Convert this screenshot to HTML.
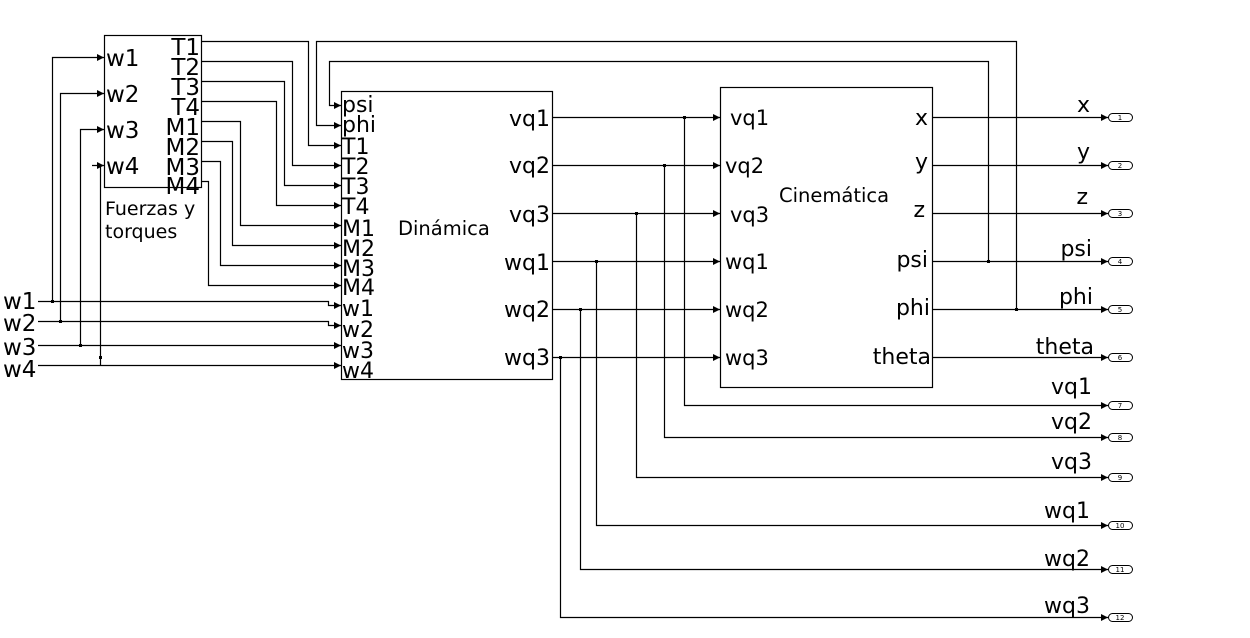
<!DOCTYPE html>
<html><head><meta charset="utf-8"><style>
html,body{margin:0;padding:0;background:#fff;}
svg{display:block;}
text{font-family:"DejaVu Sans","Liberation Sans",sans-serif;fill:#000;}
</style></head><body>
<svg width="1250" height="638" viewBox="0 0 1250 638" xmlns="http://www.w3.org/2000/svg">
<defs>
<marker id="a" markerWidth="8" markerHeight="8" refX="7" refY="4" orient="auto" markerUnits="userSpaceOnUse">
<path d="M0,0.5 L7,4 L0,7.5 Z" fill="#000"/>
</marker>
</defs>
<g fill="none" stroke="#000" stroke-width="1.2">
<rect x="104.5" y="35.5" width="97" height="152"/>
<rect x="341.5" y="91.5" width="211" height="288"/>
<rect x="720.5" y="87.5" width="212" height="300"/>
</g>
<g fill="none" stroke="#000" stroke-width="1.2" marker-end="url(#a)">
<path d="M52.5,301.5 V57.5 H104"/>
<path d="M60.5,321.5 V93.5 H104"/>
<path d="M80.5,345.5 V129.5 H104"/>
<path d="M100.5,365.5 V165.5 M92,165.5 H104"/>
<path d="M38,301.5 H328.5 V305.5 H341"/>
<path d="M38,321.5 H328.5 V325.5 H341"/>
<path d="M38,345.5 H341"/>
<path d="M38,365.5 H341"/>
<path d="M201,41.5 H308.5 V145.5 H341"/>
<path d="M201,61.5 H292.5 V165.5 H341"/>
<path d="M201,81.5 H284.5 V185.5 H341"/>
<path d="M201,101.5 H276.5 V205.5 H341"/>
<path d="M201,121.5 H240.5 V225.5 H341"/>
<path d="M201,141.5 H232.5 V245.5 H341"/>
<path d="M201,161.5 H220.5 V265.5 H341"/>
<path d="M201,181.5 H208.5 V285.5 H341"/>
<path d="M988.5,261.5 V61.5 H329.5 V105.5 H341"/>
<path d="M1016.5,309.5 V41.5 H316.5 V125.5 H341"/>
<path d="M552,117.5 H720"/>
<path d="M552,165.5 H720"/>
<path d="M552,213.5 H720"/>
<path d="M552,261.5 H720"/>
<path d="M552,309.5 H720"/>
<path d="M552,357.5 H720"/>
<path d="M684.5,117.5 V405.5 H1108"/>
<path d="M664.5,165.5 V437.5 H1108"/>
<path d="M636.5,213.5 V477.5 H1108"/>
<path d="M596.5,261.5 V525.5 H1108"/>
<path d="M580.5,309.5 V569.5 H1108"/>
<path d="M560.5,357.5 V617.5 H1108"/>
<path d="M932,117.5 H1108"/>
<path d="M932,165.5 H1108"/>
<path d="M932,213.5 H1108"/>
<path d="M932,261.5 H1108"/>
<path d="M932,309.5 H1108"/>
<path d="M932,357.5 H1108"/>
</g>
<g fill="#000">
<rect x="51" y="300" width="3" height="3"/>
<rect x="59" y="320" width="3" height="3"/>
<rect x="79" y="344" width="3" height="3"/>
<rect x="99" y="356" width="3" height="3"/>
<rect x="683" y="116" width="3" height="3"/>
<rect x="663" y="164" width="3" height="3"/>
<rect x="635" y="212" width="3" height="3"/>
<rect x="595" y="260" width="3" height="3"/>
<rect x="579" y="308" width="3" height="3"/>
<rect x="559" y="356" width="3" height="3"/>
<rect x="987" y="260" width="3" height="3"/>
<rect x="1015" y="308" width="3" height="3"/>
</g>
<g fill="#fff" stroke="#000" stroke-width="1">
<rect x="1108.5" y="113.5" width="24" height="8" rx="4"/>
<rect x="1108.5" y="161.5" width="24" height="8" rx="4"/>
<rect x="1108.5" y="209.5" width="24" height="8" rx="4"/>
<rect x="1108.5" y="257.5" width="24" height="8" rx="4"/>
<rect x="1108.5" y="305.5" width="24" height="8" rx="4"/>
<rect x="1108.5" y="353.5" width="24" height="8" rx="4"/>
<rect x="1108.5" y="401.5" width="24" height="8" rx="4"/>
<rect x="1108.5" y="433.5" width="24" height="8" rx="4"/>
<rect x="1108.5" y="473.5" width="24" height="8" rx="4"/>
<rect x="1108.5" y="521.5" width="24" height="8" rx="4"/>
<rect x="1108.5" y="565.5" width="24" height="8" rx="4"/>
<rect x="1108.5" y="613.5" width="24" height="8" rx="4"/>
</g>
<g font-size="7" text-anchor="middle">
<text x="1120" y="120">1</text><text x="1120" y="168">2</text><text x="1120" y="216">3</text>
<text x="1120" y="264">4</text><text x="1120" y="312">5</text><text x="1120" y="360">6</text>
<text x="1120" y="408">7</text><text x="1120" y="440">8</text><text x="1120" y="480">9</text>
<text x="1120" y="528">10</text><text x="1120" y="572">11</text><text x="1120" y="620">12</text>
</g>
<g font-size="22" text-anchor="end">
<text x="1090" y="112">x</text><text x="1090" y="159">y</text><text x="1088" y="204">z</text>
<text x="1092" y="256">psi</text><text x="1093" y="304">phi</text><text x="1094" y="354">theta</text>
<text x="1092" y="394">vq1</text><text x="1092" y="429">vq2</text><text x="1092" y="469">vq3</text>
<text x="1090" y="518">wq1</text><text x="1090" y="566">wq2</text><text x="1090" y="613">wq3</text>
</g>
<g font-size="23">
<text x="3" y="309">w1</text><text x="3" y="331">w2</text><text x="3" y="355">w3</text><text x="3" y="377">w4</text>
</g>
<g font-size="23">
<text x="106" y="66">w1</text><text x="106" y="102">w2</text><text x="106" y="138">w3</text><text x="106" y="174">w4</text>
</g>
<g font-size="23" text-anchor="end">
<text x="200" y="55">T1</text><text x="200" y="75">T2</text><text x="200" y="95">T3</text><text x="200" y="115">T4</text>
<text x="200" y="135">M1</text><text x="200" y="155">M2</text><text x="200" y="175">M3</text><text x="200" y="194">M4</text>
</g>
<g font-size="19">
<text x="105" y="215">Fuerzas y</text><text x="105" y="238">torques</text>
</g>
<g font-size="22">
<text x="342" y="112">psi</text><text x="342" y="132">phi</text>
<text x="342" y="154">T1</text><text x="342" y="174">T2</text><text x="342" y="194">T3</text><text x="342" y="214">T4</text>
<text x="342" y="236">M1</text><text x="342" y="256">M2</text><text x="342" y="276">M3</text><text x="342" y="295">M4</text>
<text x="342" y="316">w1</text><text x="342" y="337">w2</text><text x="342" y="358">w3</text><text x="342" y="378">w4</text>
</g>
<g font-size="22" text-anchor="end">
<text x="550" y="126">vq1</text><text x="550" y="173">vq2</text><text x="550" y="222">vq3</text>
<text x="550" y="270">wq1</text><text x="550" y="317">wq2</text><text x="550" y="365">wq3</text>
</g>
<text x="398" y="235" font-size="19.5">Dinámica</text>
<g font-size="21">
<text x="730" y="125">vq1</text><text x="725" y="173">vq2</text><text x="730" y="222">vq3</text>
<text x="725" y="269">wq1</text><text x="725" y="317">wq2</text><text x="725" y="365">wq3</text>
</g>
<g font-size="22" text-anchor="end">
<text x="928" y="125">x</text><text x="928" y="169">y</text><text x="925" y="217">z</text>
<text x="928" y="267">psi</text><text x="930" y="315">phi</text><text x="931" y="364">theta</text>
</g>
<text x="779" y="202" font-size="19.5">Cinemática</text>
</svg>
</body></html>
